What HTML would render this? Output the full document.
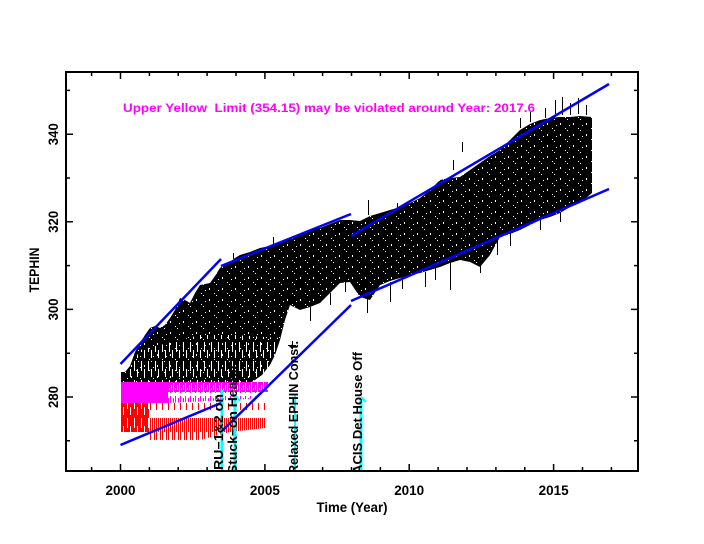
<!DOCTYPE html>
<html><head><meta charset="utf-8"><style>html,body{margin:0;padding:0;background:#fff;width:704px;height:544px;overflow:hidden}</style></head>
<body>
<svg width="704" height="544" viewBox="0 0 704 544" xmlns="http://www.w3.org/2000/svg" font-family="'Liberation Sans', sans-serif" font-weight="bold">
<defs>
<pattern id="sp1" width="13" height="11" patternUnits="userSpaceOnUse">
<g shape-rendering="crispEdges" fill="#fff"><rect x="1" y="2" width="1" height="2"/><rect x="6" y="7" width="1" height="1"/><rect x="10" y="4" width="1" height="1"/><rect x="8" y="9" width="1" height="1"/></g>
</pattern>
<pattern id="sp3" width="7" height="19" patternUnits="userSpaceOnUse">
<g shape-rendering="crispEdges" fill="#fff"><rect x="1" y="0" width="1" height="10"/><rect x="4" y="8" width="1" height="8"/></g>
</pattern>
<pattern id="pk1" width="6" height="10" patternUnits="userSpaceOnUse">
<g shape-rendering="crispEdges" fill="#f0f"><rect x="0" y="0" width="1" height="10"/><rect x="1" y="0" width="1" height="8"/><rect x="2" y="0" width="1" height="10"/><rect x="3" y="0" width="1" height="5"/><rect x="4" y="0" width="1" height="10"/></g>
</pattern>
<pattern id="pk2" width="5" height="12" patternUnits="userSpaceOnUse">
<g shape-rendering="crispEdges" fill="#f0f"><rect x="0" y="0" width="1" height="9"/><rect x="3" y="2" width="1" height="6"/></g>
</pattern>
<pattern id="rd2" width="6" height="38" patternUnits="userSpaceOnUse">
<g shape-rendering="crispEdges" fill="#f00"><rect x="0" y="0" width="1" height="30"/><rect x="2" y="0" width="1" height="14"/><rect x="4" y="0" width="1" height="22"/></g>
</pattern>
<clipPath id="late"><rect x="290" y="60" width="320" height="330"/></clipPath>
<clipPath id="plot"><rect x="66" y="72" width="572" height="399"/></clipPath>
</defs>

<!-- data cloud -->
<polygon fill="#000" points="121,372 125,372 130,366 135,352 140,343 145,335 150,328 155,326 160,328 165,325 170,318 175,310 180,298 185,300 190,303 195,293 200,285 205,284 210,283 215,276 220,268 225,264 230,262 235,258 240,255 250,252 260,248 270,246 280,243 290,239 300,234 310,230 320,228 330,224 340,220 350,220 360,221 370,216 380,213 390,210 400,207 410,203 420,198 430,190 440,180 450,178 460,177 470,170 480,163 490,156 500,150 510,140 520,130 530,124 540,120 550,118 560,117 570,117 580,116 592,117 592,193 580,203 570,207 560,213 550,217 540,220 530,225 520,230 510,234 500,237 490,255 480,267 470,262 460,260 450,263 440,267 430,270 420,273 410,275 400,278 390,281 380,285 370,300 360,297 350,282 340,283 330,293 320,303 310,307 300,310 290,305 285,320 280,340 275,355 270,365 262,375 255,380 250,383 121,383"/>
<polygon fill="url(#sp3)" points="140,350 200,335 235,335 280,338 275,355 270,365 262,375 255,380 250,383 128,383 128,372"/>
<polygon fill="url(#sp1)" points="121,372 125,372 130,366 135,352 140,343 145,335 150,328 155,326 160,328 165,325 170,318 175,310 180,298 185,300 190,303 195,293 200,285 205,284 210,283 215,276 220,268 225,264 230,262 235,258 240,255 250,252 260,248 270,246 280,243 290,239 300,234 310,230 320,228 330,224 340,220 350,220 360,221 370,216 380,213 390,210 400,207 410,203 420,198 430,190 440,180 450,178 460,177 470,170 480,163 490,156 500,150 510,140 520,130 530,124 540,120 550,118 560,117 570,117 580,116 592,117 592,193 580,203 570,207 560,213 550,217 540,220 530,225 520,230 510,234 500,237 490,255 480,267 470,262 460,260 450,263 440,267 430,270 420,273 410,275 400,278 390,281 380,285 370,300 360,297 350,282 340,283 330,293 320,303 310,307 300,310 290,305 285,320 280,340 275,355 270,365 262,375 255,380 250,383 121,383"/>
<g fill="#000" shape-rendering="crispEdges">
<rect x="462" y="142" width="1" height="10"/><rect x="453" y="160" width="1" height="10"/><rect x="555" y="100" width="1" height="14"/><rect x="562" y="97" width="1" height="18"/><rect x="570" y="103" width="1" height="12"/><rect x="578" y="98" width="1" height="16"/><rect x="586" y="105" width="1" height="10"/><rect x="545" y="108" width="1" height="10"/><rect x="530" y="112" width="1" height="10"/><rect x="520" y="118" width="1" height="10"/>
<rect x="450" y="262" width="1" height="28"/><rect x="480" y="265" width="1" height="8"/><rect x="497" y="236" width="1" height="19"/><rect x="425" y="272" width="1" height="15"/><rect x="435" y="268" width="1" height="12"/><rect x="510" y="232" width="1" height="14"/><rect x="540" y="218" width="1" height="12"/><rect x="560" y="212" width="1" height="10"/>
<rect x="367" y="298" width="1" height="15"/><rect x="390" y="282" width="1" height="20"/><rect x="402" y="277" width="1" height="12"/><rect x="368" y="200" width="1" height="15"/><rect x="397" y="203" width="1" height="8"/><rect x="273" y="237" width="1" height="8"/><rect x="233" y="253" width="1" height="6"/><rect x="288" y="345" width="8" height="1"/><rect x="292" y="341" width="1" height="8"/>
<rect x="310" y="307" width="1" height="14"/><rect x="330" y="293" width="1" height="12"/><rect x="345" y="282" width="1" height="10"/>
</g>

<!-- pink / red -->
<rect x="121" y="382" width="47" height="21" fill="#f0f"/>
<polygon fill="url(#pk1)" points="168,382 268,382 268,392 168,392"/>
<polygon fill="url(#pk2)" points="168,392 265,392 250,399 168,403"/>
<rect x="121" y="403" width="28" height="29" fill="#f00"/>
<rect x="121" y="403" width="28" height="32" fill="url(#sp3)"/>
<polygon fill="url(#rd2)" points="149,403 265,403 265,428 230,432 200,440 149,440"/>

<!-- cyan event lines -->
<g stroke="#0ff" fill="none">
<line x1="222" y1="390" x2="222" y2="471" stroke-width="3"/>
<line x1="235" y1="395" x2="235" y2="471" stroke-width="3"/>
<line x1="295" y1="395" x2="295" y2="471" stroke-width="2"/>
<line x1="361" y1="397" x2="361" y2="471" stroke-width="3"/>
<polyline points="236,396 240,401" stroke-width="2"/>
<polyline points="361,397 366,402" stroke-width="2"/>
</g>

<!-- blue limit lines -->
<g stroke="#00f" stroke-width="2.5" fill="none">
<line x1="120.5" y1="364" x2="221" y2="259"/>
<line x1="120.5" y1="445" x2="221" y2="403"/>
<line x1="221" y1="266" x2="351" y2="214"/>
<line x1="222" y1="431" x2="351" y2="305"/>
<line x1="351" y1="236" x2="609" y2="84"/>
<line x1="351" y1="301" x2="609" y2="189"/>
</g>

<!-- event labels -->
<g clip-path="url(#plot)" font-size="13" fill="#000">
<text transform="translate(223,474) rotate(-90)" textLength="80" lengthAdjust="spacingAndGlyphs">IRU−1&amp;2 on</text>
<text transform="translate(237,474) rotate(-90)" textLength="110" lengthAdjust="spacingAndGlyphs">Stuck−on Heater</text>
<text transform="translate(298,474) rotate(-90)" textLength="133" lengthAdjust="spacingAndGlyphs">Relaxed EPHIN Const.</text>
<text transform="translate(362,474) rotate(-90)" textLength="122" lengthAdjust="spacingAndGlyphs">ACIS Det House Off</text>
</g>

<!-- axes -->
<rect x="66" y="72" width="572" height="399" fill="none" stroke="#000" stroke-width="2"/>
<g stroke="#000" stroke-width="1.5">
<path d="M91.6 471v-4M120.5 471v-7M149.4 471v-4M178.2 471v-4M207.1 471v-4M236 471v-4M264.9 471v-7M293.7 471v-4M322.6 471v-4M351.5 471v-4M380.4 471v-4M409.2 471v-7M438.1 471v-4M467 471v-4M495.9 471v-4M524.8 471v-4M553.6 471v-7M582.5 471v-4M611.4 471v-4"/>
<path d="M91.6 72v4M120.5 72v7M149.4 72v4M178.2 72v4M207.1 72v4M236 72v4M264.9 72v7M293.7 72v4M322.6 72v4M351.5 72v4M380.4 72v4M409.2 72v7M438.1 72v4M467 72v4M495.9 72v4M524.8 72v4M553.6 72v7M582.5 72v4M611.4 72v4"/>
<path d="M66 440.8h4M66 397h7M66 353.2h4M66 309.4h7M66 265.6h4M66 221.8h7M66 178h4M66 134.2h7M66 90.4h4"/>
<path d="M638 440.8h-4M638 397h-7M638 353.2h-4M638 309.4h-7M638 265.6h-4M638 221.8h-7M638 178h-4M638 134.2h-7M638 90.4h-4"/>
</g>

<!-- tick labels -->
<g font-size="13.5" fill="#000" text-anchor="middle">
<text x="120.5" y="495" textLength="30" lengthAdjust="spacingAndGlyphs">2000</text>
<text x="264.9" y="495" textLength="30" lengthAdjust="spacingAndGlyphs">2005</text>
<text x="409.2" y="495" textLength="30" lengthAdjust="spacingAndGlyphs">2010</text>
<text x="553.6" y="495" textLength="30" lengthAdjust="spacingAndGlyphs">2015</text>
<text transform="translate(58,397) rotate(-90)" textLength="22" lengthAdjust="spacingAndGlyphs">280</text>
<text transform="translate(58,309.4) rotate(-90)" textLength="22" lengthAdjust="spacingAndGlyphs">300</text>
<text transform="translate(58,221.8) rotate(-90)" textLength="22" lengthAdjust="spacingAndGlyphs">320</text>
<text transform="translate(58,134.2) rotate(-90)" textLength="22" lengthAdjust="spacingAndGlyphs">340</text>
<text x="352" y="512" textLength="71" lengthAdjust="spacingAndGlyphs">Time (Year)</text>
<text transform="translate(39,270) rotate(-90)" textLength="45" lengthAdjust="spacingAndGlyphs">TEPHIN</text>
</g>

<text x="123" y="112" font-size="12" fill="#f0f" textLength="412" lengthAdjust="spacingAndGlyphs" xml:space="preserve">Upper Yellow  Limit (354.15) may be violated around Year: 2017.6</text>
</svg>
</body></html>
